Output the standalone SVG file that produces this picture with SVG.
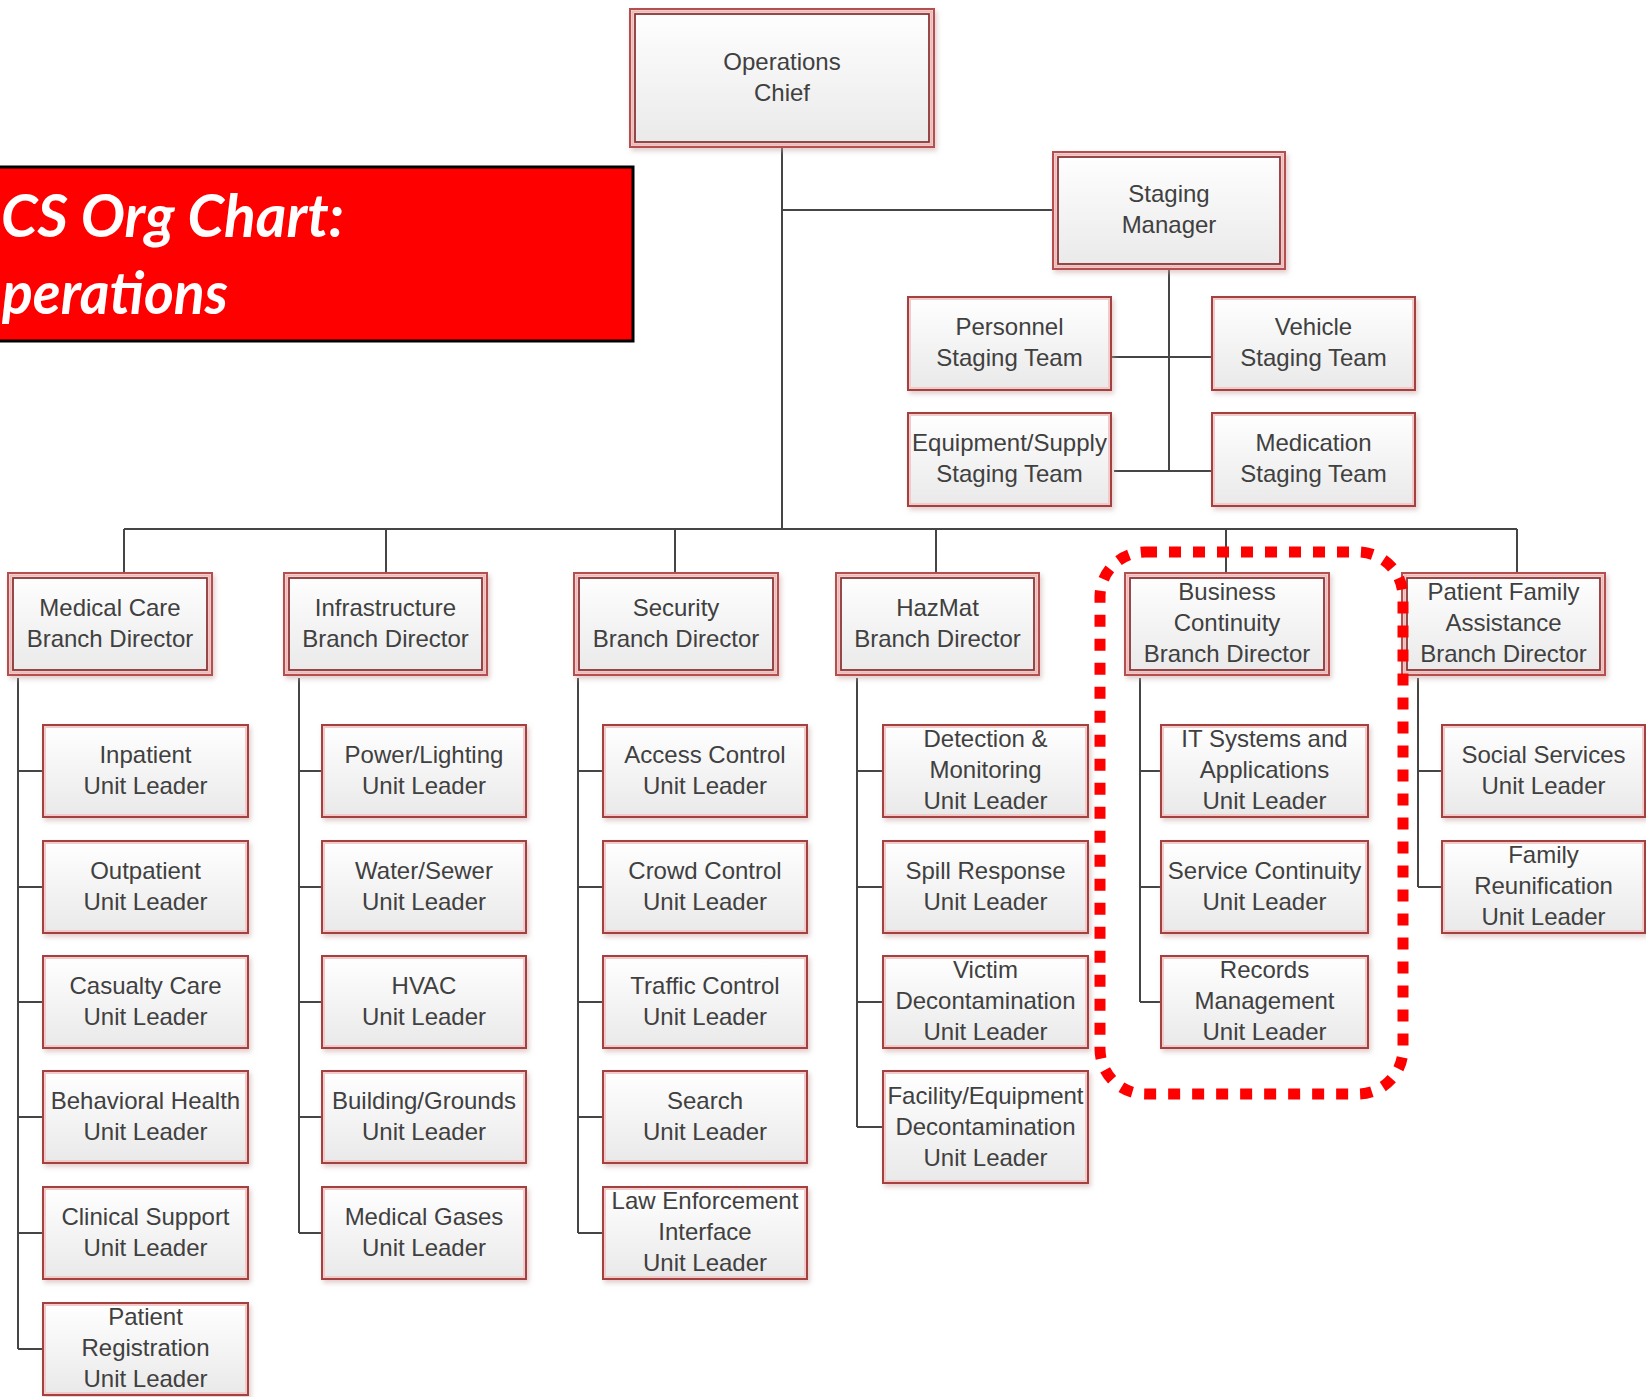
<svg xmlns="http://www.w3.org/2000/svg" width="1646" height="1397" viewBox="0 0 1646 1397">
<defs>
<linearGradient id="gr" x1="0" y1="0" x2="0" y2="1">
<stop offset="0" stop-color="#ffffff"/>
<stop offset="1" stop-color="#e9e9e9"/>
</linearGradient>
<filter id="ds" x="-10%" y="-15%" width="125%" height="140%">
<feDropShadow dx="2" dy="3" stdDeviation="2.5" flood-color="#c9a3a3" flood-opacity="0.55"/>
</filter>
<style>
.box{fill:url(#gr);stroke:#a34040;stroke-width:2;filter:url(#ds)}
.hl{fill:none;stroke:#f3caca;stroke-width:2}
.dbl{fill:url(#gr);stroke:#b35050;stroke-width:2;filter:url(#ds)}
.mid{fill:none;stroke:#eebaba;stroke-width:2.5}
.inn{fill:none;stroke:#8c3636;stroke-width:1.8}
.t{font-family:"Liberation Sans",Arial,sans-serif;font-size:24px;fill:#404040;text-anchor:middle}
.ttl{font-family:Lato,"Liberation Sans",sans-serif;font-size:60px;font-weight:bold;font-style:italic;fill:#ffffff}
.cn{fill:none;stroke:#454545;stroke-width:2}
</style>
</defs>
<rect width="1646" height="1397" fill="#ffffff"/>

<g id="connectors">
<path class="cn" d="M782 147V529M782 210H1053M1169 269V471M1111 357H1212M1114 471H1212"/>
<path class="cn" d="M124 529H1517M124 529V573M386 529V573M675 529V573M936 529V573M1226 529V573M1517 529V573"/>
<path class="cn" d="M18 678V1349M18 771H43M18 887H43M18 1002H43M18 1117H43M18 1233H43M18 1349H43"/>
<path class="cn" d="M299 678V1233M299 771H322M299 887H322M299 1002H322M299 1117H322M299 1233H322"/>
<path class="cn" d="M578 678V1233M578 771H603M578 887H603M578 1002H603M578 1117H603M578 1233H603"/>
<path class="cn" d="M857 678V1127M857 771H883M857 887H883M857 1002H883M857 1127H883"/>
<path class="cn" d="M1140 678V1002M1140 771H1161M1140 887H1161M1140 1002H1161"/>
<path class="cn" d="M1418 678V887M1418 771H1442M1418 887H1442"/>
</g>

<g id="title">
<rect x="-5" y="167" width="638" height="174" fill="#ff0000" stroke="#000000" stroke-width="3"/>
<text class="ttl" x="1" y="237" textLength="343" lengthAdjust="spacingAndGlyphs">CS Org Chart:</text>
<text class="ttl" x="2" y="314" textLength="226" lengthAdjust="spacingAndGlyphs">perations</text>
</g>

<g id="ops-chief">
<rect class="dbl" x="630" y="9" width="304" height="138"/>
<rect class="mid" x="632.5" y="11.5" width="299" height="133"/>
<rect class="inn" x="635" y="14" width="294" height="128"/>
<text class="t" x="782" y="70">Operations</text>
<text class="t" x="782" y="101">Chief</text>
</g>

<g id="staging-manager">
<rect class="dbl" x="1053" y="152" width="232" height="117"/>
<rect class="mid" x="1055.5" y="154.5" width="227" height="112"/>
<rect class="inn" x="1058" y="157" width="222" height="107"/>
<text class="t" x="1169" y="202">Staging</text>
<text class="t" x="1169" y="233">Manager</text>
</g>

<g id="personnel-staging">
<rect class="box" x="908" y="297" width="203" height="93"/>
<rect class="hl" x="910" y="299" width="199" height="89"/>
<text class="t" x="1009.5" y="335">Personnel</text>
<text class="t" x="1009.5" y="366">Staging Team</text>
</g>
<g id="vehicle-staging">
<rect class="box" x="1212" y="297" width="203" height="93"/>
<rect class="hl" x="1214" y="299" width="199" height="89"/>
<text class="t" x="1313.5" y="335">Vehicle</text>
<text class="t" x="1313.5" y="366">Staging Team</text>
</g>
<g id="equipment-staging">
<rect class="box" x="908" y="413" width="203" height="93"/>
<rect class="hl" x="910" y="415" width="199" height="89"/>
<text class="t" x="1009.5" y="451">Equipment/Supply</text>
<text class="t" x="1009.5" y="482">Staging Team</text>
</g>
<g id="medication-staging">
<rect class="box" x="1212" y="413" width="203" height="93"/>
<rect class="hl" x="1214" y="415" width="199" height="89"/>
<text class="t" x="1313.5" y="451">Medication</text>
<text class="t" x="1313.5" y="482">Staging Team</text>
</g>

<g id="medical-care-branch">
<rect class="dbl" x="8" y="573" width="204" height="102"/>
<rect class="mid" x="10.5" y="575.5" width="199" height="97"/>
<rect class="inn" x="13" y="578" width="194" height="92"/>
<text class="t" x="110" y="616">Medical Care</text>
<text class="t" x="110" y="647">Branch Director</text>
</g>
<g id="infrastructure-branch">
<rect class="dbl" x="284" y="573" width="203" height="102"/>
<rect class="mid" x="286.5" y="575.5" width="198" height="97"/>
<rect class="inn" x="289" y="578" width="193" height="92"/>
<text class="t" x="385.5" y="616">Infrastructure</text>
<text class="t" x="385.5" y="647">Branch Director</text>
</g>
<g id="security-branch">
<rect class="dbl" x="574" y="573" width="204" height="102"/>
<rect class="mid" x="576.5" y="575.5" width="199" height="97"/>
<rect class="inn" x="579" y="578" width="194" height="92"/>
<text class="t" x="676" y="616">Security</text>
<text class="t" x="676" y="647">Branch Director</text>
</g>
<g id="hazmat-branch">
<rect class="dbl" x="836" y="573" width="203" height="102"/>
<rect class="mid" x="838.5" y="575.5" width="198" height="97"/>
<rect class="inn" x="841" y="578" width="193" height="92"/>
<text class="t" x="937.5" y="616">HazMat</text>
<text class="t" x="937.5" y="647">Branch Director</text>
</g>
<g id="business-continuity-branch">
<rect class="dbl" x="1125" y="573" width="204" height="102"/>
<rect class="mid" x="1127.5" y="575.5" width="199" height="97"/>
<rect class="inn" x="1130" y="578" width="194" height="92"/>
<text class="t" x="1227" y="600">Business</text>
<text class="t" x="1227" y="631">Continuity</text>
<text class="t" x="1227" y="662">Branch Director</text>
</g>
<g id="patient-family-branch">
<rect class="dbl" x="1402" y="573" width="203" height="102"/>
<rect class="mid" x="1404.5" y="575.5" width="198" height="97"/>
<rect class="inn" x="1407" y="578" width="193" height="92"/>
<text class="t" x="1503.5" y="600">Patient Family</text>
<text class="t" x="1503.5" y="631">Assistance</text>
<text class="t" x="1503.5" y="662">Branch Director</text>
</g>

<g id="inpatient"><rect class="box" x="43" y="725" width="205" height="92"/><rect class="hl" x="45" y="727" width="201" height="88"/><text class="t" x="145.5" y="763">Inpatient</text><text class="t" x="145.5" y="794">Unit Leader</text></g>
<g id="outpatient"><rect class="box" x="43" y="841" width="205" height="92"/><rect class="hl" x="45" y="843" width="201" height="88"/><text class="t" x="145.5" y="879">Outpatient</text><text class="t" x="145.5" y="910">Unit Leader</text></g>
<g id="casualty-care"><rect class="box" x="43" y="956" width="205" height="92"/><rect class="hl" x="45" y="958" width="201" height="88"/><text class="t" x="145.5" y="994">Casualty Care</text><text class="t" x="145.5" y="1025">Unit Leader</text></g>
<g id="behavioral-health"><rect class="box" x="43" y="1071" width="205" height="92"/><rect class="hl" x="45" y="1073" width="201" height="88"/><text class="t" x="145.5" y="1109">Behavioral Health</text><text class="t" x="145.5" y="1140">Unit Leader</text></g>
<g id="clinical-support"><rect class="box" x="43" y="1187" width="205" height="92"/><rect class="hl" x="45" y="1189" width="201" height="88"/><text class="t" x="145.5" y="1225">Clinical Support</text><text class="t" x="145.5" y="1256">Unit Leader</text></g>
<g id="patient-registration"><rect class="box" x="43" y="1303" width="205" height="92"/><rect class="hl" x="45" y="1305" width="201" height="88"/><text class="t" x="145.5" y="1325">Patient</text><text class="t" x="145.5" y="1356">Registration</text><text class="t" x="145.5" y="1387">Unit Leader</text></g>

<g id="power-lighting"><rect class="box" x="322" y="725" width="204" height="92"/><rect class="hl" x="324" y="727" width="200" height="88"/><text class="t" x="424" y="763">Power/Lighting</text><text class="t" x="424" y="794">Unit Leader</text></g>
<g id="water-sewer"><rect class="box" x="322" y="841" width="204" height="92"/><rect class="hl" x="324" y="843" width="200" height="88"/><text class="t" x="424" y="879">Water/Sewer</text><text class="t" x="424" y="910">Unit Leader</text></g>
<g id="hvac"><rect class="box" x="322" y="956" width="204" height="92"/><rect class="hl" x="324" y="958" width="200" height="88"/><text class="t" x="424" y="994">HVAC</text><text class="t" x="424" y="1025">Unit Leader</text></g>
<g id="building-grounds"><rect class="box" x="322" y="1071" width="204" height="92"/><rect class="hl" x="324" y="1073" width="200" height="88"/><text class="t" x="424" y="1109">Building/Grounds</text><text class="t" x="424" y="1140">Unit Leader</text></g>
<g id="medical-gases"><rect class="box" x="322" y="1187" width="204" height="92"/><rect class="hl" x="324" y="1189" width="200" height="88"/><text class="t" x="424" y="1225">Medical Gases</text><text class="t" x="424" y="1256">Unit Leader</text></g>

<g id="access-control"><rect class="box" x="603" y="725" width="204" height="92"/><rect class="hl" x="605" y="727" width="200" height="88"/><text class="t" x="705" y="763">Access Control</text><text class="t" x="705" y="794">Unit Leader</text></g>
<g id="crowd-control"><rect class="box" x="603" y="841" width="204" height="92"/><rect class="hl" x="605" y="843" width="200" height="88"/><text class="t" x="705" y="879">Crowd Control</text><text class="t" x="705" y="910">Unit Leader</text></g>
<g id="traffic-control"><rect class="box" x="603" y="956" width="204" height="92"/><rect class="hl" x="605" y="958" width="200" height="88"/><text class="t" x="705" y="994">Traffic Control</text><text class="t" x="705" y="1025">Unit Leader</text></g>
<g id="search"><rect class="box" x="603" y="1071" width="204" height="92"/><rect class="hl" x="605" y="1073" width="200" height="88"/><text class="t" x="705" y="1109">Search</text><text class="t" x="705" y="1140">Unit Leader</text></g>
<g id="law-enforcement"><rect class="box" x="603" y="1187" width="204" height="92"/><rect class="hl" x="605" y="1189" width="200" height="88"/><text class="t" x="705" y="1209">Law Enforcement</text><text class="t" x="705" y="1240">Interface</text><text class="t" x="705" y="1271">Unit Leader</text></g>

<g id="detection-monitoring"><rect class="box" x="883" y="725" width="205" height="92"/><rect class="hl" x="885" y="727" width="201" height="88"/><text class="t" x="985.5" y="747">Detection &amp;</text><text class="t" x="985.5" y="778">Monitoring</text><text class="t" x="985.5" y="809">Unit Leader</text></g>
<g id="spill-response"><rect class="box" x="883" y="841" width="205" height="92"/><rect class="hl" x="885" y="843" width="201" height="88"/><text class="t" x="985.5" y="879">Spill Response</text><text class="t" x="985.5" y="910">Unit Leader</text></g>
<g id="victim-decon"><rect class="box" x="883" y="956" width="205" height="92"/><rect class="hl" x="885" y="958" width="201" height="88"/><text class="t" x="985.5" y="978">Victim</text><text class="t" x="985.5" y="1009">Decontamination</text><text class="t" x="985.5" y="1040">Unit Leader</text></g>
<g id="facility-decon"><rect class="box" x="883" y="1071" width="205" height="112"/><rect class="hl" x="885" y="1073" width="201" height="108"/><text class="t" x="985.5" y="1104">Facility/Equipment</text><text class="t" x="985.5" y="1135">Decontamination</text><text class="t" x="985.5" y="1166">Unit Leader</text></g>

<g id="it-systems"><rect class="box" x="1161" y="725" width="207" height="92"/><rect class="hl" x="1163" y="727" width="203" height="88"/><text class="t" x="1264.5" y="747">IT Systems and</text><text class="t" x="1264.5" y="778">Applications</text><text class="t" x="1264.5" y="809">Unit Leader</text></g>
<g id="service-continuity"><rect class="box" x="1161" y="841" width="207" height="92"/><rect class="hl" x="1163" y="843" width="203" height="88"/><text class="t" x="1264.5" y="879">Service Continuity</text><text class="t" x="1264.5" y="910">Unit Leader</text></g>
<g id="records-management"><rect class="box" x="1161" y="956" width="207" height="92"/><rect class="hl" x="1163" y="958" width="203" height="88"/><text class="t" x="1264.5" y="978">Records</text><text class="t" x="1264.5" y="1009">Management</text><text class="t" x="1264.5" y="1040">Unit Leader</text></g>

<g id="social-services"><rect class="box" x="1442" y="725" width="203" height="92"/><rect class="hl" x="1444" y="727" width="199" height="88"/><text class="t" x="1543.5" y="763">Social Services</text><text class="t" x="1543.5" y="794">Unit Leader</text></g>
<g id="family-reunification"><rect class="box" x="1442" y="841" width="203" height="92"/><rect class="hl" x="1444" y="843" width="199" height="88"/><text class="t" x="1543.5" y="863">Family</text><text class="t" x="1543.5" y="894">Reunification</text><text class="t" x="1543.5" y="925">Unit Leader</text></g>

<g id="highlight">
<rect x="1100" y="552" width="303" height="542" rx="45" fill="none" stroke="#ff0000" stroke-width="11" stroke-dasharray="12 12"/>
</g>
</svg>
